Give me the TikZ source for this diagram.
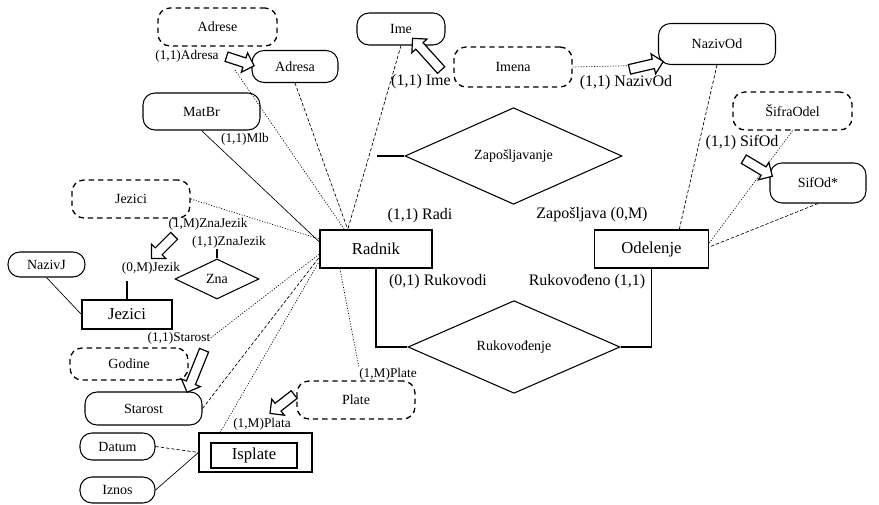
\documentclass[tikz,border=0pt]{standalone}
\usepackage{fontspec}
\setmainfont{Liberation Serif}
\usetikzlibrary{shapes.geometric,shapes.arrows,calc}

\begin{document}
\begin{tikzpicture}[x=0.75pt,y=-0.75pt]

\tikzstyle{entity} = [rectangle, draw=black, line width=0.8pt, inner sep=1pt, font=\fontsize{12.5}{14}\selectfont]
\tikzstyle{relation} = [diamond, draw=black, line width=0.8pt, inner sep=1pt, font=\fontsize{10.5}{12}\selectfont]
\tikzstyle{attr} = [rectangle, rounded corners=9pt, draw=black, line width=0.8pt, inner sep=1pt, font=\fontsize{10.5}{12}\selectfont]
\tikzstyle{attrdash} = [attr, line width=1pt, dash pattern=on 4pt off 3pt]
\tikzstyle{card} = [inner sep=0pt, font=\fontsize{12}{14}\selectfont]
\tikzstyle{smallcard} = [inner sep=0pt, font=\fontsize{10}{12}\selectfont]
\tikzstyle{harrow} = [single arrow, draw=black, line width=0.9pt, fill=white, inner xsep=0pt, inner ysep=3.2pt, single arrow head extend=4pt]

\tikzstyle{conn} = [line width=0.8pt]
\tikzstyle{solidline} = [line width=0.5pt]
\tikzstyle{dotline} = [line width=0.5pt, dash pattern=on 0.8pt off 1.2pt]
\tikzstyle{dashline} = [line width=0.5pt, dash pattern=on 2.5pt off 1.5pt]

\useasboundingbox (0,0) rectangle (879,505);

% entities
\node (radnik) [entity, minimum width=84pt, minimum height=28.5pt] at (376,249) {Radnik};
\node (odelenje) [entity, minimum width=86pt, minimum height=28.5pt] at (651.5,249) {Odelenje};
\node (jezici) [entity, minimum width=67.5pt, minimum height=21.75pt] at (127,314.5) {Jezici};
\node (isplateOut) [entity, minimum width=84.75pt, minimum height=29.25pt] at (255.5,452.5) {};
\node (isplate) [entity, minimum width=64.5pt, minimum height=18.75pt] at (254,455.5) {Isplate};

% relations
\node (zaposl) [relation, minimum width=162.75pt, minimum height=46.5pt] at (513.5,156) {Zapošljavanje};
\node (rukov) [relation, minimum width=159pt, minimum height=47.25pt] at (514,347) {Rukovođenje};
\node (zna) [relation, minimum width=63pt, minimum height=30pt] at (217,279) {Zna};

% attributes
\node (adrese) [attrdash, minimum width=89.25pt, minimum height=28.5pt] at (217.5,27) {Adrese};
\node (adresa) [attr, minimum width=64.5pt, minimum height=24pt] at (295,66.5) {Adresa};
\node (matbr) [attr, minimum width=87.75pt, minimum height=27.75pt] at (201.5,111.5) {MatBr};
\node (ime) [attr, minimum width=66pt, minimum height=24pt] at (401,29) {Ime};
\node (imena) [attrdash, minimum width=88.5pt, minimum height=30pt] at (513,67) {Imena};
\node (nazivod) [attr, minimum width=87.75pt, minimum height=30.75pt] at (717,44) {NazivOd};
\node (sifraodel) [attrdash, minimum width=89.25pt, minimum height=28.5pt] at (792.5,111) {ŠifraOdel};
\node (sifod) [attr, minimum width=72pt, minimum height=30pt] at (818,183) {SifOd*};
\node (jeziciA) [attrdash, minimum width=88.5pt, minimum height=28.5pt] at (131,199) {Jezici};
\node (nazivj) [attr, minimum width=57.75pt, minimum height=18.75pt] at (46.5,264.5) {NazivJ};
\node (godine) [attrdash, minimum width=88.5pt, minimum height=24pt] at (129,364) {Godine};
\node (starost) [attr, minimum width=87.75pt, minimum height=24.75pt] at (143.5,408.5) {Starost};
\node (plate) [attrdash, minimum width=88.5pt, minimum height=28.5pt] at (356,400) {Plate};
\node (datum) [attr, minimum width=56.25pt, minimum height=20.25pt] at (117.5,446.5) {Datum};
\node (iznos) [attr, minimum width=56.25pt, minimum height=19.5pt] at (117.5,490) {Iznos};

% cardinalities
\node (lAdresa) [smallcard] at (187,56) {(1,1)Adresa};
\node (lMlb) [smallcard] at (245,139.5) {(1,1)Mlb};
\node (lIme) [card] at (421,82) {(1,1) Ime};
\node (lNazivOd) [card] at (626,83) {(1,1) NazivOd};
\node (lSifOd) [card] at (742,143) {(1,1) SifOd};
\node (lRadi) [card] at (420,216) {(1,1) Radi};
\node (lZaposljava) [card] at (592,215) {Zapošljava (0,M)};
\node (lRukovodi) [card] at (438,282) {(0,1) Rukovodi};
\node (lRukovodjeno) [card] at (587,282) {Rukovođeno (1,1)};
\node (lZnaJezikM) [smallcard] at (208,224.5) {(1,M)ZnaJezik};
\node (lZnaJezik) [smallcard] at (229,242) {(1,1)ZnaJezik};
\node (lJezik) [smallcard] at (151,268) {(0,M)Jezik};
\node (lStarost) [smallcard] at (179,338) {(1,1)Starost};
\node (lPlate) [smallcard] at (388,374) {(1,M)Plate};
\node (lPlata) [smallcard] at (262,424) {(1,M)Plata};

\coordinate (zapC) at (377,156);
\coordinate (znaC) at (217,249);
\coordinate (jezC) at (127,281);
\coordinate (adrC) at (235,70);

\draw [dashline] (ime.south) -- ($(radnik.north west)!0.25!(radnik.north east)$);
\draw [dashline] (adresa.south) -- ($(radnik.north west)!0.25!(radnik.north east)$);
\draw [dotline] (adrC) -- ($(radnik.north west)!0.22!(radnik.north east)$);
\draw [solidline] (matbr.south) -- (radnik.173);
\draw [dotline] (jeziciA.east) -- (radnik.170);
\draw [dotline] (lStarost.east) -- (radnik.185);
\draw [dashline] (starost.east) -- (radnik.188);
\draw [dotline] ($(isplateOut.north west)!0.19!(isplateOut.north east)$) -- (radnik.192);
\draw [dotline] ($(radnik.south west)!0.18!(radnik.south east)$) -- (lPlate.north west);
\draw [solidline] (nazivj.south) -- (jezici.west);
\draw [conn] (jezici.north) -- (jezC);
\draw [conn] (zna.north) -- (znaC);
\draw [dashline] (datum.east) -- (isplateOut.west);
\draw [solidline] (iznos.east) -- (isplateOut.west);
\draw [conn] (zaposl.west) -- (zapC);
\draw [conn] (radnik.south) |- (rukov.west);
\draw [conn] (rukov.east) -| (odelenje.south);
\draw [dashline] (nazivod.south) -- ($(odelenje.north west)!0.74!(odelenje.north east)$);
\draw [dotline] (imena.east) -- (nazivod.south west);
\draw [dotline] (sifraodel.south) -- (odelenje.6);
\draw [dashline] (sifod.south) -- (odelenje.2);

% block arrows
\node (arrAdr) [harrow, minimum height=21.75pt, rotate=-18] at (238,60.5) {};
\node (arrIme) [harrow, minimum height=32pt, rotate=132] at (428.5,56) {};
\node (arrNaz) [harrow, minimum height=26pt, rotate=13] at (644,66) {};
\node (arrSif) [harrow, minimum height=25pt, rotate=-31] at (756,166.5) {};
\node (arrZna) [harrow, minimum height=24pt, rotate=-135] at (164.5,245.5) {};
\node (arrSta) [harrow, minimum height=34pt, rotate=-112] at (196.5,369) {};
\node (arrPla) [harrow, minimum height=23pt, rotate=-142] at (284,402.5) {};

\end{tikzpicture}
\end{document}
